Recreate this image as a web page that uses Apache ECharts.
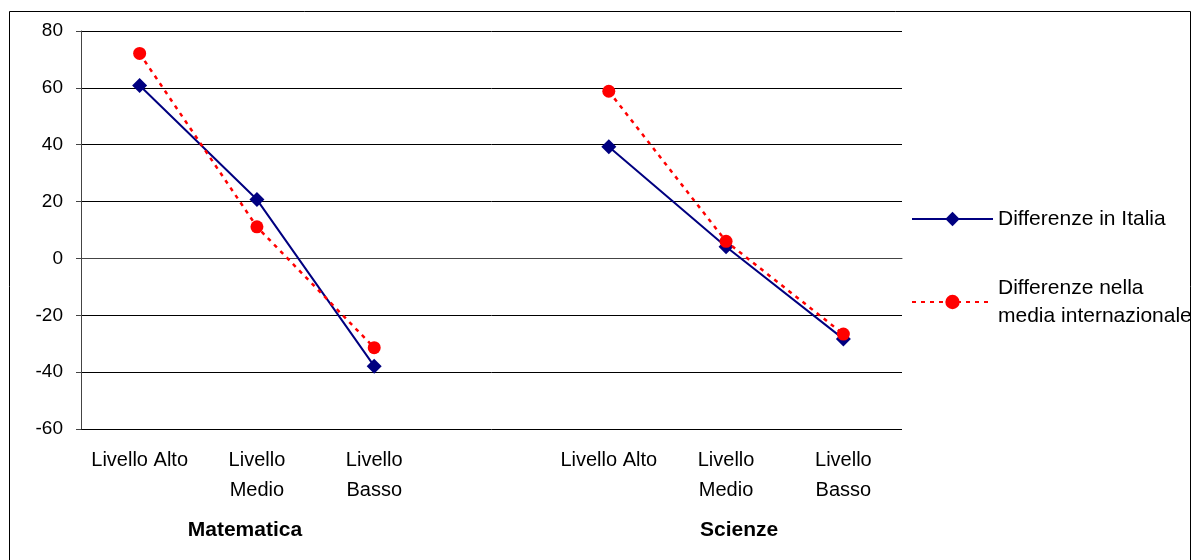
<!DOCTYPE html>
<html><head><meta charset="utf-8">
<script src="https://cdn.jsdelivr.net/npm/echarts@6/dist/echarts.min.js"></script>
<style>html,body{margin:0;padding:0;background:#fff}#c{width:1195px;height:560px}</style>
</head><body><div id="c"></div>
<script>
const categories = ['Livello Alto', 'Livello\nMedio', 'Livello\nBasso', '', 'Livello Alto', 'Livello\nMedio', 'Livello\nBasso'];
const groupLabels = ['', 'Matematica', '', '', '', 'Scienze', ''];
const seriesNames = ['Differenze in Italia', 'Differenze nella media internazionale'];
const italia = [60.8, 20.7, -37.9, null, 39.3, 4.1, -28.3];
const internazionale = [72.1, 11.1, -31.4, null, 58.8, 6.0, -26.6];
const yMin = -60, yMax = 80, yStep = 20;

const FONT = '"Liberation Sans", Arial, sans-serif';
const chart = echarts.init(document.getElementById('c'), null, {renderer: 'canvas'});
chart.setOption({
  animation: false,
  backgroundColor: '#fff',
  textStyle: {fontFamily: FONT},
  graphic: [{
    type: 'rect', silent: true, z: -1,
    shape: {x: 9.5, y: 11.5, width: 1181, height: 580},
    style: {fill: 'none', stroke: '#000', lineWidth: 1}
  }],
  grid: {left: 81, right: 293, top: 31, bottom: 131, containLabel: false},
  legend: [{
    data: [seriesNames[0]],
    orient: 'vertical', left: 911, top: 207, padding: 0,
    itemWidth: 81, itemHeight: 18, itemGap: 5,
    textStyle: {fontFamily: FONT, fontSize: 21, color: '#000', lineHeight: 24}
  }, {
    data: [seriesNames[1]],
    orient: 'vertical', left: 911, top: 260, padding: 0,
    itemWidth: 81, itemHeight: 18,
    formatter: () => 'Differenze nella\nmedia internazionale',
    textStyle: {fontFamily: FONT, fontSize: 21, color: '#000', lineHeight: 28, padding: [28, 0, 0, 0]}
  }],
  xAxis: [{
    type: 'category', data: categories, boundaryGap: true,
    axisLine: {show: true, lineStyle: {color: '#444', width: 1}},
    axisTick: {show: false},
    axisLabel: {interval: 0, margin: 16, fontFamily: FONT, fontSize: 20, color: '#000', lineHeight: 30, align: 'center'},
    splitLine: {show: false}
  }, {
    type: 'category', data: groupLabels, position: 'bottom', boundaryGap: true,
    axisLine: {show: false}, axisTick: {show: false},
    axisLabel: {
      interval: 0, margin: 86, fontFamily: FONT,
      formatter: (v) => v === 'Matematica' ? '{m|' + v + '}' : (v === 'Scienze' ? '{s|' + v + '}' : ''),
      rich: {
        m: {fontSize: 21, fontWeight: 'bold', color: '#000', fontFamily: FONT, padding: [0, 24, 0, 0], lineHeight: 30},
        s: {fontSize: 21, fontWeight: 'bold', color: '#000', fontFamily: FONT, padding: [0, 0, 0, 26], lineHeight: 30}
      }
    }
  }],
  yAxis: {
    type: 'value', min: yMin, max: yMax, interval: yStep,
    axisLine: {show: true, lineStyle: {color: '#444', width: 1}},
    axisTick: {show: true, inside: false, length: 5, lineStyle: {color: '#444'}},
    axisLabel: {margin: 18, fontFamily: FONT, fontSize: 19, color: '#000'},
    splitLine: {show: true, lineStyle: {color: '#000', width: 1}}
  },
  series: [{
    name: seriesNames[0], type: 'line', data: italia, connectNulls: false,
    symbol: 'diamond', symbolSize: 15,
    lineStyle: {color: '#000080', width: 2},
    itemStyle: {color: '#000080'},
    z: 3
  }, {
    name: seriesNames[1], type: 'line', data: internazionale, connectNulls: false,
    symbol: 'circle', symbolSize: 13,
    lineStyle: {color: '#ff0000', width: 2.5, type: [4, 5]},
    itemStyle: {color: '#ff0000'},
    z: 4
  }]
});
</script></body></html>
